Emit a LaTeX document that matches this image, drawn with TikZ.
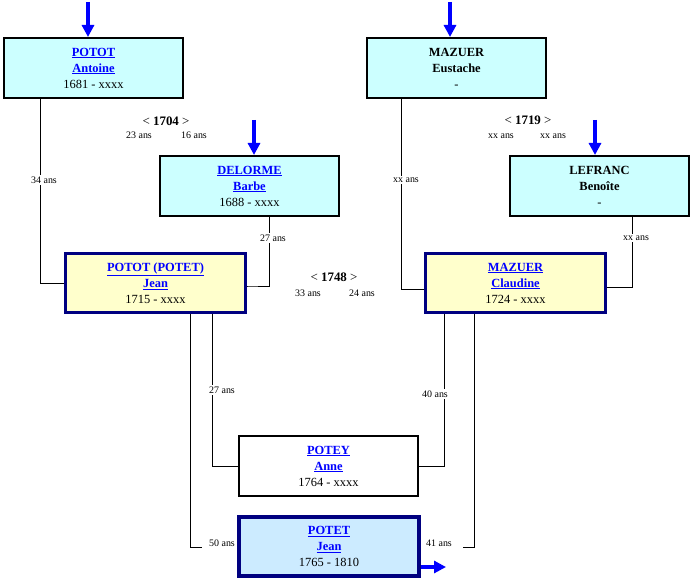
\documentclass[tikz,border=0pt]{standalone}
\usepackage{fontspec}
\setmainfont{Liberation Serif}
\usepackage{xcolor}
\usetikzlibrary{arrows.meta}
\definecolor{boxcyan}{HTML}{CCFFFF}
\definecolor{boxyellow}{HTML}{FFFFCC}
\definecolor{boxblue}{HTML}{CCEBFF}
\definecolor{navy}{HTML}{000080}
\definecolor{linkblue}{HTML}{0000FF}
\newcommand{\lnk}[1]{\textcolor{linkblue}{\underline{#1}}}

\begin{document}
\begin{tikzpicture}[x=1bp, y=-1bp, line width=0.9bp,
			person/.style={draw, inner sep=0pt, align=center, font=\fontsize{12.5}{16}\selectfont},
			ancestor/.style={person, fill=boxcyan, line width=2bp, minimum width=179bp, minimum height=60bp},
			parent/.style={person, fill=boxyellow, draw=navy, line width=3bp, minimum width=180bp, minimum height=59bp},
			sibling/.style={person, fill=white, line width=2bp, minimum width=179bp, minimum height=60bp},
			self/.style={person, fill=boxblue, draw=navy, line width=4bp, minimum width=180bp, minimum height=59bp},
			age/.style={fill=white, inner xsep=3bp, inner ysep=2bp, font=\fontsize{10}{11}\selectfont},
			wedding/.style={inner sep=0pt, font=\fontsize{13}{14}\selectfont},
			arrowin/.style={draw=linkblue, line width=4.5bp, -{Triangle[width=12bp,length=12bp]}}]
		\useasboundingbox (0,0) rectangle (694,581);

		\node[ancestor] (antoine) at (93.5,68) {\textbf{\lnk{POTOT}}\\\textbf{\lnk{Antoine}}\\1681 - xxxx};
		\node[ancestor] (barbe) at (249.5,186) {\textbf{\lnk{DELORME}}\\\textbf{\lnk{Barbe}}\\1688 - xxxx};
		\node[ancestor] (eustache) at (456.5,68) {\textbf{MAZUER}\\\textbf{Eustache}\\-};
		\node[ancestor] (benoite) at (599.5,186) {\textbf{LEFRANC}\\\textbf{Benoîte}\\-};
		\node[parent] (jean) at (155.5,283) {\textbf{\lnk{POTOT (POTET)}}\\\textbf{\lnk{Jean}}\\1715 - xxxx};
		\node[parent] (claudine) at (515.5,283) {\textbf{\lnk{MAZUER}}\\\textbf{\lnk{Claudine}}\\1724 - xxxx};
		\node[sibling] (anne) at (328.5,466) {\textbf{\lnk{POTEY}}\\\textbf{\lnk{Anne}}\\1764 - xxxx};
		\node[self] (potet) at (329,546.5) {\textbf{\lnk{POTET}}\\\textbf{\lnk{Jean}}\\1765 - 1810};
		\node[age, fill=none, inner xsep=7bp] (agejp) at (222,543) {50 ans};
		\node[age, fill=none, inner xsep=11bp] (agecp) at (439,543) {41 ans};

		\coordinate (inantoine) at (88,2);
		\coordinate (inbarbe) at (254,120);
		\coordinate (ineustache) at (450,2);
		\coordinate (inbenoite) at (595,120);
		\coordinate (outpotet) at (446,567);
		\draw[arrowin] (inantoine) -- (inantoine |- antoine.north);
		\draw[arrowin] (inbarbe) -- (inbarbe |- barbe.north);
		\draw[arrowin] (ineustache) -- (ineustache |- eustache.north);
		\draw[arrowin] (inbenoite) -- (inbenoite |- benoite.north);
		\draw[arrowin] (potet.east |- outpotet) -- (outpotet);

		\draw ([xshift=-53.5bp]antoine.south) |- (jean.west);
		\draw ([xshift=19.5bp]barbe.south) |- ([yshift=-3bp]jean.east) -- ++(1,0);
		\draw ([xshift=-55.5bp]eustache.south) |- ([yshift=-6bp]claudine.west);
		\draw ([xshift=32.5bp]benoite.south) |- ([yshift=-4bp]claudine.east);
		\draw ([xshift=56.5bp]jean.south) |- (anne.west);
		\draw ([xshift=-71.5bp]claudine.south) |- (anne.east);
		\draw ([xshift=34.5bp]jean.south) |- ([yshift=-4bp]agejp.west);
		\draw ([xshift=-41.5bp]claudine.south) |- ([yshift=-4bp]agecp.east);

		\node[age] (agea) at (44,180) {34 ans};
		\node[age] (ageb) at (273,238) {27 ans};
		\node[age] (agee) at (406,180) {xx ans};
		\node[age] (ageben) at (636,238) {xx ans};
		\node[age] (agej) at (222,390) {27 ans};
		\node[age] (agec) at (435,394) {40 ans};

		\node[wedding] (w1704) at (166,121) {<\ \textbf{1704} >};
		\node[age] (w1704a) at (139,135) {23 ans};
		\node[age] (w1704b) at (194,135) {16 ans};
		\node[wedding] (w1748) at (334,277) {<\ \textbf{1748} >};
		\node[age] (w1748a) at (308,293) {33 ans};
		\node[age] (w1748b) at (362,293) {24 ans};
		\node[wedding] (w1719) at (528,120) {<\ \textbf{1719} >};
		\node[age] (w1719a) at (501,136) {xx ans};
		\node[age] (w1719b) at (553,136) {xx ans};
	\end{tikzpicture}
\end{document}
